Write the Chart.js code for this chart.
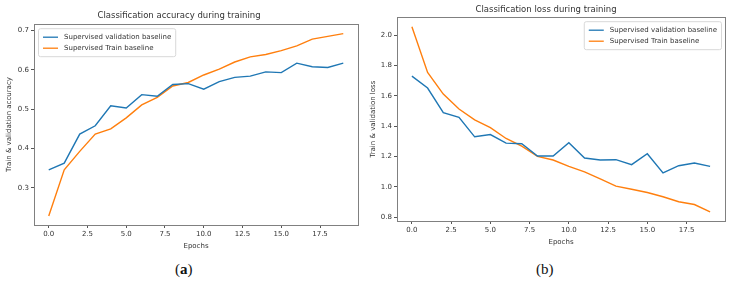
<!DOCTYPE html>
<html>
<head>
<meta charset="utf-8">
<script src="https://cdn.jsdelivr.net/npm/chart.js@4"></script>
<style>
  body { margin: 0; background: #fff; width: 734px; height: 286px; position: relative; overflow: hidden; }
  .box { position: absolute; }
  .cap { position: absolute; font-family: "Liberation Serif", "DejaVu Serif", serif; font-size: 15px; color: #111; }
  .cap b { font-weight: bold; }
</style>
</head>
<body>
<div class="box" style="left:0;top:0;width:367px;height:250px"><canvas id="acc"></canvas></div>
<div class="box" style="left:367px;top:0;width:367px;height:246px"><canvas id="loss"></canvas></div>
<div class="cap" style="left:175px;top:261px">(<b>a</b>)</div>
<div class="cap" style="left:536px;top:261px">(b)</div>
<script>
// DATA
const epochs = [0,1,2,3,4,5,6,7,8,9,10,11,12,13,14,15,16,17,18,19];
const xTicks = [0, 2.5, 5, 7.5, 10, 12.5, 15, 17.5];

const accVal = [0.346,0.363,0.437,0.458,0.509,0.503,0.537,0.533,0.563,0.565,
                0.551,0.570,0.581,0.584,0.595,0.593,0.617,0.608,0.606,0.617];
const accTrain = [0.229,0.346,0.393,0.437,0.450,0.478,0.511,0.530,0.559,0.568,
                  0.587,0.602,0.620,0.633,0.639,0.649,0.661,0.678,0.685,0.692];
const accTicks = [0.3, 0.4, 0.5, 0.6, 0.7];

const lossVal = [1.731,1.652,1.490,1.459,1.330,1.345,1.288,1.284,1.203,1.203,
                 1.291,1.190,1.177,1.179,1.146,1.218,1.091,1.139,1.157,1.135];
const lossTrain = [2.057,1.755,1.612,1.514,1.442,1.391,1.319,1.269,1.201,1.177,
                   1.135,1.098,1.052,1.004,0.984,0.962,0.934,0.901,0.883,0.835];
const lossTicks = [0.8, 1.0, 1.2, 1.4, 1.6, 1.8, 2.0];

const seriesNames = ["Supervised validation baseline", "Supervised Train baseline"];
const BLUE = "#1f77b4", ORANGE = "#ff7f0e";
const FONT = "'DejaVu Sans', sans-serif";

// frame around the plot + legend box like matplotlib
const framePlugin = {
  id: 'frame',
  afterDraw(chart, args, opts) {
    const { ctx, chartArea: a } = chart;
    ctx.save();
    ctx.strokeStyle = '#808080';
    ctx.lineWidth = 1;
    ctx.strokeRect(Math.round(a.left) + 0.5, Math.round(a.top) + 0.5,
                   Math.round(a.right - a.left), Math.round(a.bottom - a.top));

    // legend
    ctx.font = "7px " + FONT;
    const sets = chart.data.datasets;
    const tw = Math.max(...sets.map(d => ctx.measureText(d.label).width));
    const w = tw + 30, h = sets.length * 11 + 6;
    const x = opts.align === 'right' ? a.right - w - 4 : a.left + 4;
    const y = a.top + 4;
    ctx.fillStyle = 'rgba(255,255,255,0.85)';
    ctx.strokeStyle = '#d8d8d8';
    ctx.beginPath();
    ctx.roundRect(x + 0.5, y + 0.5, w, h, 2);
    ctx.fill();
    ctx.stroke();
    sets.forEach((d, i) => {
      const cy = y + 9 + i * 11;
      ctx.strokeStyle = d.borderColor;
      ctx.lineWidth = 1.3;
      ctx.beginPath();
      ctx.moveTo(x + 5, cy);
      ctx.lineTo(x + 20, cy);
      ctx.stroke();
      ctx.fillStyle = '#333';
      ctx.textBaseline = 'middle';
      ctx.fillText(d.label, x + 26, cy);
    });
    ctx.restore();
  }
};

function makeChart(id, cfg) {
  const data = {
    labels: epochs,
    datasets: [
      { label: seriesNames[0], data: cfg.val.map((v, i) => ({ x: epochs[i], y: v })),
        borderColor: BLUE, backgroundColor: BLUE },
      { label: seriesNames[1], data: cfg.train.map((v, i) => ({ x: epochs[i], y: v })),
        borderColor: ORANGE, backgroundColor: ORANGE }
    ]
  };
  return new Chart(document.getElementById(id), {
    type: 'line',
    data: data,
    plugins: [framePlugin],
    options: {
      responsive: true,
      maintainAspectRatio: false,
      animation: false,
      elements: {
        point: { radius: 0 },
        line: { borderWidth: 1.4, tension: 0 }
      },
      layout: { padding: { left: 0, right: 9, top: cfg.padTop, bottom: 0 } },
      plugins: {
        legend: { display: false },
        tooltip: { enabled: false },
        title: {
          display: true, text: cfg.title, color: '#333',
          font: { family: FONT, size: 8.5, weight: 'normal' },
          padding: { top: 0, bottom: cfg.titleGap }
        },
        frame: { align: cfg.legendAlign }
      },
      scales: {
        x: {
          type: 'linear', min: -0.95, max: 19.95,
          afterBuildTicks: s => { s.ticks = xTicks.map(v => ({ value: v })); },
          afterFit: s => { s.height = 25; },
          grid: { display: true, drawOnChartArea: false, tickLength: 3, color: '#555' },
          border: { display: false },
          ticks: { color: '#333', font: { family: FONT, size: 7 }, padding: 2,
                   maxRotation: 0, callback: v => v.toFixed(1) },
          title: { display: true, text: 'Epochs', color: '#333',
                   font: { family: FONT, size: 7 }, padding: { top: 1, bottom: 0 } }
        },
        y: {
          min: cfg.yMin, max: cfg.yMax,
          afterBuildTicks: s => { s.ticks = cfg.yTicks.map(v => ({ value: v })); },
          afterFit: s => { s.width = cfg.yWidth; },
          grid: { display: true, drawOnChartArea: false, tickLength: 3, color: '#555' },
          border: { display: false },
          ticks: { color: '#333', font: { family: FONT, size: 7 }, padding: 2,
                   callback: v => v.toFixed(1) },
          title: { display: true, text: cfg.yLabel, color: '#333',
                   font: { family: FONT, size: 7 }, padding: { top: cfg.yTitlePad, bottom: 2 } }
        }
      }
    }
  });
}

makeChart('acc', {
  title: 'Classification accuracy during training',
  yLabel: 'Train & validation accuracy',
  val: accVal, train: accTrain, yTicks: accTicks,
  yMin: 0.206, yMax: 0.716, yWidth: 34, yTitlePad: 5,
  padTop: 11, titleGap: 3, legendAlign: 'left'
});

makeChart('loss', {
  title: 'Classification loss during training',
  yLabel: 'Train & validation loss',
  val: lossVal, train: lossTrain, yTicks: lossTicks,
  yMin: 0.774, yMax: 2.12, yWidth: 30, yTitlePad: 2,
  padTop: 5, titleGap: 2, legendAlign: 'right'
});
</script>
</body>
</html>
